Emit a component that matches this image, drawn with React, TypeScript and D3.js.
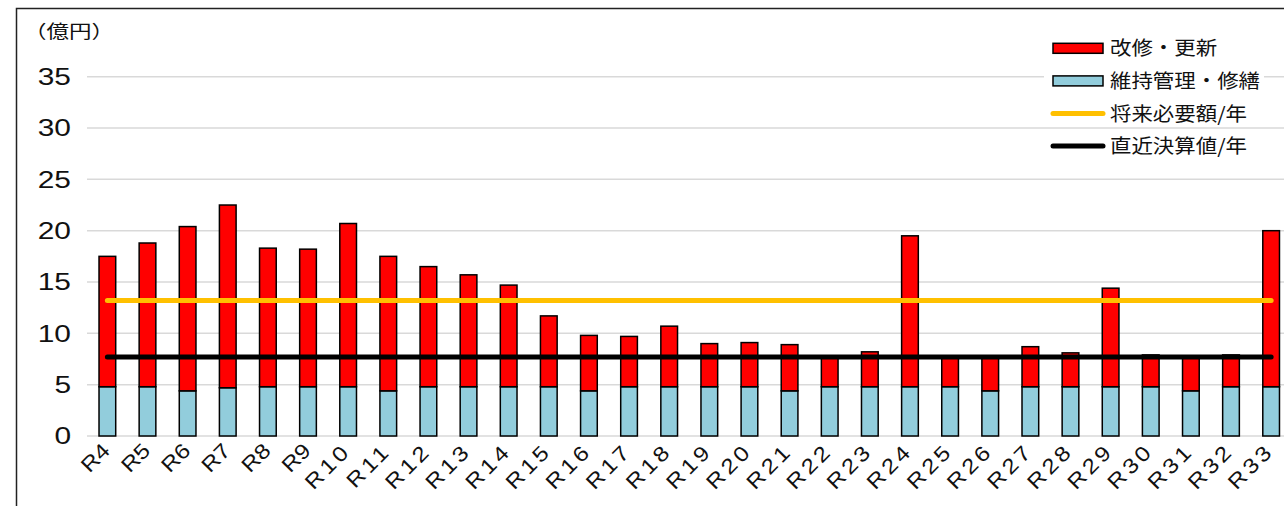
import React, { useEffect, useRef } from "react";
import * as d3 from "d3";

const years = [
  "R4", "R5", "R6", "R7", "R8", "R9", "R10", "R11", "R12", "R13",
  "R14", "R15", "R16", "R17", "R18", "R19", "R20", "R21", "R22", "R23",
  "R24", "R25", "R26", "R27", "R28", "R29", "R30", "R31", "R32", "R33",
];

// 維持管理・修繕 (億円)
const maintenance = [
  4.8, 4.8, 4.4, 4.7, 4.8, 4.8, 4.8, 4.4, 4.8, 4.8,
  4.8, 4.8, 4.4, 4.8, 4.8, 4.8, 4.8, 4.4, 4.8, 4.8,
  4.8, 4.8, 4.4, 4.8, 4.8, 4.8, 4.8, 4.4, 4.8, 4.8,
];

// 改修・更新 (億円)
const renewal = [
  12.7, 14.0, 16.0, 17.8, 13.5, 13.4, 15.9, 13.1, 11.7, 10.9,
  9.9, 6.9, 5.4, 4.9, 5.9, 4.2, 4.3, 4.5, 3.0, 3.4,
  14.7, 2.9, 3.3, 3.9, 3.3, 9.6, 3.1, 3.2, 3.1, 15.2,
];

const futureNeed = 13.2; // 将来必要額/年
const recentActual = 7.7; // 直近決算値/年

const yTicks = [0, 5, 10, 15, 20, 25, 30, 35];

const legendItems = [
  { label: "改修・更新", kind: "rect", color: "#ff0000" },
  { label: "維持管理・修繕", kind: "rect", color: "#92cddc" },
  { label: "将来必要額/年", kind: "line", color: "#ffc000" },
  { label: "直近決算値/年", kind: "line", color: "#000000" },
];

const App: React.FC = () => {
  const svgRef = useRef<SVGSVGElement>(null);

  useEffect(() => {
    if (!svgRef.current) return;
    const width = 1284;
    const height = 506;
    const svg = d3.select(svgRef.current);
    svg.selectAll("*").remove();
    svg.attr("width", width).attr("height", height);

    const numFont = "'Liberation Sans', Arial, sans-serif";
    const jpFont = "'Noto Sans CJK JP', sans-serif";

    const x = d3
      .scaleBand()
      .domain(years)
      .range([87.3, 1291.2])
      .paddingInner(0.584)
      .paddingOuter(0.292);

    const y = d3.scaleLinear().domain([0, 35]).range([436, 76.7]);

    // frame
    svg
      .append("path")
      .attr("d", `M16.5,${height} V8.5 H${width}`)
      .attr("fill", "none")
      .attr("stroke", "#222")
      .attr("stroke-width", 1.5);

    // gridlines
    svg
      .append("g")
      .selectAll("line")
      .data(yTicks)
      .join("line")
      .attr("x1", 87)
      .attr("x2", width)
      .attr("y1", (d) => y(d))
      .attr("y2", (d) => y(d))
      .attr("stroke", "#d9d9d9")
      .attr("stroke-width", 1.5);

    // y tick labels
    svg
      .append("g")
      .selectAll("text")
      .data(yTicks)
      .join("text")
      .attr("transform", (d) => `translate(71,${y(d)}) scale(1.3,1)`)
      .attr("dy", "0.36em")
      .attr("text-anchor", "end")
      .attr("font-family", numFont)
      .attr("font-size", 23)
      .attr("fill", "#111")
      .text((d) => d);

    // unit label
    svg
      .append("text")
      .attr("transform", "translate(24,38) scale(1.25,1)")
      .attr("font-family", jpFont)
      .attr("font-size", 18)
      .attr("fill", "#111")
      .text("（億円）");

    const rows = years.map((yr, i) => ({
      yr,
      m: maintenance[i],
      r: renewal[i],
    }));

    const bw = x.bandwidth();
    const bars = svg.append("g");
    bars
      .selectAll("rect.m")
      .data(rows)
      .join("rect")
      .attr("class", "m")
      .attr("x", (d) => x(d.yr)!)
      .attr("width", bw)
      .attr("y", (d) => y(d.m))
      .attr("height", (d) => y(0) - y(d.m))
      .attr("fill", "#92cddc")
      .attr("stroke", "#000")
      .attr("stroke-width", 1.5);
    bars
      .selectAll("rect.r")
      .data(rows)
      .join("rect")
      .attr("class", "r")
      .attr("x", (d) => x(d.yr)!)
      .attr("width", bw)
      .attr("y", (d) => y(d.m + d.r))
      .attr("height", (d) => y(d.m) - y(d.m + d.r))
      .attr("fill", "#ff0000")
      .attr("stroke", "#000")
      .attr("stroke-width", 1.5);

    // reference lines
    const x0 = x(years[0])! + bw / 2;
    const x1 = x(years[years.length - 1])! + bw / 2;
    [
      { v: futureNeed, c: "#ffc000" },
      { v: recentActual, c: "#000000" },
    ].forEach((l) => {
      svg
        .append("line")
        .attr("x1", x0)
        .attr("x2", x1)
        .attr("y1", y(l.v))
        .attr("y2", y(l.v))
        .attr("stroke", l.c)
        .attr("stroke-width", 5)
        .attr("stroke-linecap", "round");
    });

    // x labels
    svg
      .append("g")
      .selectAll("text")
      .data(years)
      .join("text")
      .attr(
        "transform",
        (d) => `translate(${x(d)! + bw / 2 + 4},${452}) rotate(-45) scale(1.15,1)`
      )
      .attr("text-anchor", "end")
      .attr("font-family", numFont)
      .attr("font-size", 21)
      .attr("letter-spacing", (d) => (d.length > 2 ? 3 : 0))
      .attr("fill", "#111")
      .text((d) => d);

    // legend
    const lg = svg.append("g");
    legendItems.forEach((it, i) => {
      const cy = 48.3 + i * 32.6;
      lg.append("rect")
        .attr("x", 1044)
        .attr("y", cy - 11)
        .attr("width", 220)
        .attr("height", 22)
        .attr("fill", "#fff");
      if (it.kind === "rect") {
        lg.append("rect")
          .attr("x", 1053)
          .attr("y", cy - 5)
          .attr("width", 50)
          .attr("height", 10)
          .attr("fill", it.color)
          .attr("stroke", "#000")
          .attr("stroke-width", 1.5);
      } else {
        lg.append("line")
          .attr("x1", 1053)
          .attr("x2", 1103)
          .attr("y1", cy)
          .attr("y2", cy)
          .attr("stroke", it.color)
          .attr("stroke-width", 5)
          .attr("stroke-linecap", "round");
      }
      lg.append("text")
        .attr("transform", `translate(1110,${cy}) scale(1.1,1)`)
        .attr("dy", "0.36em")
        .attr("font-family", jpFont)
        .attr("font-size", 19.5)
        .attr("fill", "#111")
        .text(it.label);
    });
  }, []);

  return (
    <div style={{ position: "absolute", left: 0, top: 0, width: 1284, height: 506, overflow: "hidden", background: "#fff" }}>
      <svg ref={svgRef} style={{ display: "block" }} />
    </div>
  );
};

export default App;
